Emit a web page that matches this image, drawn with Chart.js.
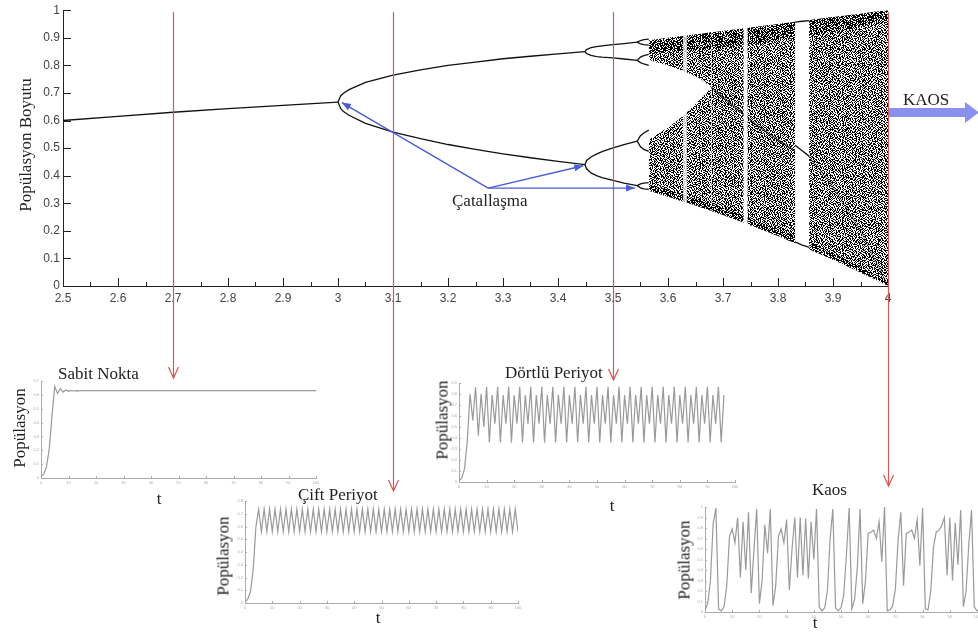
<!DOCTYPE html>
<html>
<head>
<meta charset="utf-8">
<style>
  body { margin: 0; background: #fff; }
  #wrap { position: relative; width: 978px; height: 637px; overflow: hidden; font-family: "Liberation Serif", serif; color: #222; }
  #wrap canvas { position: absolute; }
  .lbl { position: absolute; font-size: 17px; line-height: 1; white-space: nowrap; }
  .vt { position: absolute; font-size: 17px; line-height: 1; white-space: nowrap; transform: translate(-50%, -50%) rotate(-90deg); }
  .t { position: absolute; font-size: 17px; line-height: 1; transform: translate(-50%, -50%); }
</style>
</head>
<body>
<div id="wrap">
  <canvas id="main" width="978" height="637" style="left:0;top:0"></canvas>
  <canvas id="sabit"></canvas>
  <canvas id="cift"></canvas>
  <canvas id="dortlu"></canvas>
  <canvas id="kaos"></canvas>

  <div class="vt" style="left:25px;top:145px">Popülasyon Boyutu</div>
  <div class="lbl" style="left:452px;top:192px">Çatallaşma</div>
  <div class="lbl" style="left:903px;top:91px">KAOS</div>

  <div class="lbl" style="left:58px;top:365px">Sabit Nokta</div>
  <div class="vt" style="left:19px;top:428px">Popülasyon</div>
  <div class="t" style="left:159px;top:498px">t</div>

  <div class="lbl" style="left:298px;top:486px">Çift Periyot</div>
  <div class="vt" style="left:223px;top:556px">Popülasyon</div>
  <div class="t" style="left:378px;top:617px">t</div>

  <div class="lbl" style="left:505px;top:364px">Dörtlü Periyot</div>
  <div class="vt" style="left:442px;top:420px">Popülasyon</div>
  <div class="t" style="left:612px;top:505px">t</div>

  <div class="lbl" style="left:812px;top:481px">Kaos</div>
  <div class="vt" style="left:684px;top:560px">Popülasyon</div>
  <div class="t" style="left:815px;top:622px">t</div>
</div>
<script src="https://cdn.jsdelivr.net/npm/chart.js"></script>
<script>
// ---- bifurcation diagram: growth rate r on x, population on y ----
const singleR = [2.5, 2.6, 2.7, 2.8, 2.9, 3.0];
const singleY = [0.6, 0.615, 0.63, 0.643, 0.655, 0.667];

const doubleR = [3.0, 3.005, 3.01, 3.02, 3.05, 3.1, 3.15, 3.2, 3.25, 3.3, 3.35, 3.4, 3.449];
const doubleUpper = [0.667, 0.69, 0.699, 0.712, 0.738, 0.765, 0.784, 0.8, 0.812, 0.824, 0.833, 0.842, 0.85];
const doubleLower = [0.667, 0.643, 0.633, 0.619, 0.59, 0.558, 0.534, 0.513, 0.495, 0.479, 0.465, 0.452, 0.44];

const quadR = [3.449, 3.452, 3.46, 3.47, 3.48, 3.5, 3.52, 3.544];
const quadA = [0.85, 0.857, 0.864, 0.868, 0.871, 0.875, 0.879, 0.884];
const quadB = [0.85, 0.843, 0.836, 0.832, 0.83, 0.827, 0.823, 0.818];
const quadC = [0.44, 0.455, 0.468, 0.478, 0.487, 0.501, 0.513, 0.525];
const quadD = [0.44, 0.425, 0.41, 0.4, 0.393, 0.383, 0.373, 0.364];

const octR = [3.544, 3.55, 3.556, 3.565];
const octA1 = [0.884, 0.89, 0.893, 0.895];
const octA2 = [0.884, 0.878, 0.875, 0.873];
const octB1 = [0.818, 0.83, 0.835, 0.84];
const octB2 = [0.818, 0.81, 0.805, 0.8];
const octC1 = [0.525, 0.545, 0.555, 0.565];
const octC2 = [0.525, 0.505, 0.495, 0.488];
const octD1 = [0.364, 0.37, 0.373, 0.375];
const octD2 = [0.364, 0.356, 0.352, 0.35];

// chaotic region outline
const chaosR = [3.565, 3.58, 3.6, 3.62, 3.64, 3.66, 3.679, 3.7, 3.75, 3.8, 3.85, 3.9, 3.95, 3.975, 4.0];
const chaosTop = [0.891, 0.895, 0.9, 0.905, 0.91, 0.915, 0.92, 0.925, 0.9375, 0.95, 0.9625, 0.975, 0.9875, 0.994, 1.0];
const chaosTopInner = [0.84, 0.845, 0.85, 0.85, 0.855, 0.86, 0.86, 0.865, 0.875, 0.89, 0.905, 0.92, 0.94, 0.955, 0.97];
const chaosBottom = [0.345, 0.336, 0.324, 0.311, 0.298, 0.285, 0.272, 0.257, 0.22, 0.181, 0.139, 0.095, 0.049, 0.025, 0.0];
const chaosBottomInner = [0.37, 0.36, 0.35, 0.335, 0.322, 0.31, 0.297, 0.282, 0.247, 0.207, 0.165, 0.12, 0.07, 0.04, 0.01];
// two separate bands before they merge (first 7 points of chaosR)
const upperBandBottom = [0.82, 0.81, 0.8, 0.785, 0.77, 0.75, 0.72];
const lowerBandTop = [0.53, 0.55, 0.575, 0.605, 0.64, 0.68, 0.72];

// dense curve running through the chaos
const ridgeR = [3.679, 3.72, 3.76, 3.8, 3.831];
const ridgeY = [0.72, 0.65, 0.585, 0.53, 0.49];
const tailR = [3.857, 3.9, 3.95, 4.0];
const tailY = [0.47, 0.36, 0.2, 0.0];

// periodic windows
const win6R = [3.627, 3.635];
const win5R = [3.737, 3.745];
const win3R = [3.831, 3.844, 3.857];
const win3Top = [0.957, 0.96, 0.962];
const win3Mid = [0.51, 0.49, 0.47];
const win3Bot = [0.16, 0.148, 0.14];

// annotation arrows (r, population)
const redArrowR = [2.7, 3.1, 3.5, 4.0];
const redArrowEnd = [378, 491, 380, 486];
const forkFrom = { r: 3.273, y: 0.355 };
const forkTo = [{ r: 3.007, y: 0.665 }, { r: 3.446, y: 0.436 }, { r: 3.54, y: 0.355 }];

// ---- time series, t = 0..100 ----
const sabitValues = [0.01, 0.03, 0.08, 0.21, 0.45, 0.66, 0.61, 0.645, 0.62, 0.635, 0.626, 0.632, 0.628, 0.631, 0.629, 0.63,
  0.63, 0.63, 0.63, 0.63, 0.63, 0.63, 0.63, 0.63, 0.63, 0.63, 0.63, 0.63, 0.63, 0.63, 0.63, 0.63, 0.63, 0.63, 0.63,
  0.63, 0.63, 0.63, 0.63, 0.63, 0.63, 0.63, 0.63, 0.63, 0.63, 0.63, 0.63, 0.63, 0.63, 0.63, 0.63, 0.63, 0.63, 0.63,
  0.63, 0.63, 0.63, 0.63, 0.63, 0.63, 0.63, 0.63, 0.63, 0.63, 0.63, 0.63, 0.63, 0.63, 0.63, 0.63, 0.63, 0.63, 0.63,
  0.63, 0.63, 0.63, 0.63, 0.63, 0.63, 0.63, 0.63, 0.63, 0.63, 0.63, 0.63, 0.63, 0.63, 0.63, 0.63, 0.63, 0.63, 0.63,
  0.63, 0.63, 0.63, 0.63, 0.63, 0.63, 0.63, 0.63, 0.63];
const ciftValues = [0.01, 0.03, 0.09, 0.26, 0.6, 0.735,
  0.56, 0.735, 0.56, 0.735, 0.56, 0.735, 0.56, 0.735, 0.56, 0.735, 0.56, 0.735, 0.56, 0.735, 0.56, 0.735, 0.56, 0.735,
  0.56, 0.735, 0.56, 0.735, 0.56, 0.735, 0.56, 0.735, 0.56, 0.735, 0.56, 0.735, 0.56, 0.735, 0.56, 0.735, 0.56, 0.735,
  0.56, 0.735, 0.56, 0.735, 0.56, 0.735, 0.56, 0.735, 0.56, 0.735, 0.56, 0.735, 0.56, 0.735, 0.56, 0.735, 0.56, 0.735,
  0.56, 0.735, 0.56, 0.735, 0.56, 0.735, 0.56, 0.735, 0.56, 0.735, 0.56, 0.735, 0.56, 0.735, 0.56, 0.735, 0.56, 0.735,
  0.56, 0.735, 0.56, 0.735, 0.56, 0.735, 0.56, 0.735, 0.56, 0.735, 0.56, 0.735, 0.56, 0.735, 0.56, 0.735, 0.56, 0.735,
  0.56, 0.735, 0.56, 0.735, 0.56];
const dortluValues = [0.01, 0.035, 0.12, 0.37, 0.8, 0.56, 0.86, 0.42, 0.8, 0.5, 0.865, 0.36,
  0.79, 0.53, 0.865, 0.36, 0.79, 0.53, 0.865, 0.36, 0.79, 0.53, 0.865, 0.36, 0.79, 0.53, 0.865, 0.36,
  0.79, 0.53, 0.865, 0.36, 0.79, 0.53, 0.865, 0.36, 0.79, 0.53, 0.865, 0.36, 0.79, 0.53, 0.865, 0.36,
  0.79, 0.53, 0.865, 0.36, 0.79, 0.53, 0.865, 0.36, 0.79, 0.53, 0.865, 0.36, 0.79, 0.53, 0.865, 0.36,
  0.79, 0.53, 0.865, 0.36, 0.79, 0.53, 0.865, 0.36, 0.79, 0.53, 0.865, 0.36, 0.79, 0.53, 0.865, 0.36,
  0.79, 0.53, 0.865, 0.36, 0.79, 0.53, 0.865, 0.36, 0.79, 0.53, 0.865, 0.36, 0.79, 0.53, 0.865, 0.36,
  0.79, 0.53, 0.865, 0.36, 0.79];
const kaosValues = [0.02, 0.08, 0.3, 0.84, 0.99, 0.03, 0.01, 0.05, 0.25, 0.72,
  0.79, 0.66, 0.9, 0.33, 0.86, 0.4, 0.95, 0.18, 0.59, 0.98,
  0.08, 0.3, 0.83, 0.56, 0.98, 0.06, 0.25, 0.72, 0.79, 0.66,
  0.88, 0.21, 0.6, 0.9, 0.33, 0.9, 0.35, 0.89, 0.32, 0.86,
  0.5, 0.98, 0.05, 0.01, 0.04, 0.2, 0.7, 0.98, 0.04, 0.01,
  0.04, 0.16, 0.55, 0.99, 0.03, 0.12, 0.42, 0.98, 0.08, 0.3,
  0.75, 0.76, 0.78, 0.7, 0.86, 0.48, 1.0, 0.01, 0.02, 0.06,
  0.22, 0.69, 0.95, 0.25, 0.75, 0.76, 0.78, 0.7, 0.88, 0.44,
  0.99, 0.03, 0.02, 0.2, 0.62, 0.76, 0.78, 0.82, 0.9, 0.35,
  0.9, 0.3, 0.85, 0.45, 0.97, 0.05, 0.2, 0.65, 0.97, 0.05, 0.01];

// ---- speckle fill for the chaotic region ----
const tileA = [
  "#..#.##..#.#..#.", ".#...#.##...#.##", "#.##...#..##..#.", "..#.#.#..#..##..",
  ".#...##.#..#..##", "#..#.....##.#.#.", ".##.#.#.#...#..#", "#...#..#..#.#.#.",
  "..#..#.#.#..#..#", ".#.##...#.##..#.", "#...#.##...#.#.#", ".##..#..#.#..#..",
  "#..#..#.#..#...#", ".#..#...#.#.##..", "..#.##.#...#..#.", "#.#...#..##..#.#"];
const tileB = [
  "#...#..#.#...", "..#...#....#.", ".#..#...#..#.", "#...#.#...#..", "..#....#.#..#",
  ".#.#.#....#..", "#....#..#...#", "..#.#...#.#..", ".#...#.#...#.", "#..#....#..#.",
  "..#..#.#...#.", ".#.#...#.#...", "#....#...#.#."];
const tileD = [
  "#.....#......", "...#......#..", ".....#.#.....", ".#........#..", "....#.....#..",
  "..#....#.....", "........#..#.", "#....#.......", "...#.......#.", ".#.....#.....",
  "......#...#..", "..#.#........", "#.........#.."];

// tiles are stamped together on one square canvas whose side fits every tile
function makePattern(tiles, size) {
  const c = document.createElement('canvas');
  c.width = c.height = size;
  const g = c.getContext('2d');
  g.fillStyle = '#000';
  tiles.forEach(rows => {
    for (let y = 0; y < size; y++) {
      const row = rows[y % rows.length];
      for (let x = 0; x < size; x++) if (row[x % row.length] === '#') g.fillRect(x, y, 1, 1);
    }
  });
  return g.createPattern(c, 'repeat');
}
const speckle = makePattern([tileA, tileD], 208);
const speckleEdge = makePattern([tileB], 13);

const pts = (xs, ys) => xs.map((x, i) => ({ x, y: ys[i] }));

const datasets = [];
function addLine(xs, ys, color, width, order) {
  datasets.push({ data: pts(xs, ys), borderColor: color, borderWidth: width, pointRadius: 0, fill: false, order });
}
function addBand(xs, top, bottom, color, order) {
  datasets.push({ data: pts(xs, bottom), borderColor: 'transparent', borderWidth: 0, pointRadius: 0, fill: false, order });
  datasets.push({ data: pts(xs, top), borderColor: 'transparent', borderWidth: 0, pointRadius: 0,
    fill: datasets.length - 1, backgroundColor: color, order });
}

// chaotic bands (drawn underneath)
addBand(chaosR.slice(0, 7), chaosTop.slice(0, 7), upperBandBottom, speckle, 6);
addBand(chaosR.slice(0, 7), lowerBandTop, chaosBottom.slice(0, 7), speckle, 6);
addBand(chaosR.slice(6), chaosTop.slice(6), chaosBottom.slice(6), speckle, 6);
addBand(chaosR, chaosTop, chaosTopInner, speckleEdge, 5);
addBand(chaosR, chaosBottomInner, chaosBottom, speckleEdge, 5);
addLine(ridgeR, ridgeY, 'rgba(0,0,0,0.6)', 1.6, 4);
addLine(tailR, tailY, 'rgba(0,0,0,0.3)', 1.6, 4);
// windows
addBand(win6R, [0.925, 0.925], [0.28, 0.28], 'rgba(255,255,255,0.75)', 3);
addBand(win5R, [0.945, 0.945], [0.2, 0.2], 'rgba(255,255,255,0.95)', 3);
addBand([3.831, 3.857], [0.975, 0.975], [0.12, 0.12], '#fff', 3);
// period-doubling branches
[[singleR, singleY], [doubleR, doubleUpper], [doubleR, doubleLower],
 [quadR, quadA], [quadR, quadB], [quadR, quadC], [quadR, quadD],
 [octR, octA1], [octR, octA2], [octR, octB1], [octR, octB2],
 [octR, octC1], [octR, octC2], [octR, octD1], [octR, octD2],
 [win3R, win3Top], [win3R, win3Mid], [win3R, win3Bot]
].forEach(([xs, ys]) => addLine(xs, ys, '#111', 1.3, 1));

// tick marks pointing into the plot
const inTicks = {
  id: 'inTicks',
  afterDatasetsDraw(chart, args, opts) {
    const { ctx, chartArea: a, scales: { x, y } } = chart;
    ctx.save();
    ctx.strokeStyle = opts.color;
    ctx.lineWidth = 1;
    ctx.beginPath();
    x.ticks.forEach((t, i) => {
      const px = Math.round(x.getPixelForValue(t.value)) + 0.5;
      ctx.moveTo(px, a.bottom);
      ctx.lineTo(px, a.bottom - opts.len);
      if (opts.minor && i < x.ticks.length - 1) {
        const mx = Math.round(x.getPixelForValue((t.value + x.ticks[i + 1].value) / 2)) + 0.5;
        ctx.moveTo(mx, a.bottom);
        ctx.lineTo(mx, a.bottom - opts.len / 2);
      }
    });
    y.ticks.forEach(t => {
      const py = Math.round(y.getPixelForValue(t.value)) + 0.5;
      ctx.moveTo(a.left, py);
      ctx.lineTo(a.left + opts.len, py);
    });
    ctx.stroke();
    ctx.restore();
  }
};

function arrowHead(ctx, x0, y0, x1, y1, len, half) {
  const ang = Math.atan2(y1 - y0, x1 - x0);
  ctx.beginPath();
  ctx.moveTo(x1, y1);
  ctx.lineTo(x1 - len * Math.cos(ang) + half * Math.sin(ang), y1 - len * Math.sin(ang) - half * Math.cos(ang));
  ctx.lineTo(x1 - len * Math.cos(ang) - half * Math.sin(ang), y1 - len * Math.sin(ang) + half * Math.cos(ang));
  ctx.closePath();
  ctx.fill();
}

// red guide lines, blue bifurcation arrows and the KAOS arrow
const annotations = {
  id: 'annotations',
  afterDraw(chart) {
    const { ctx, chartArea: a, scales: { x, y } } = chart;
    ctx.save();
    ctx.strokeStyle = '#d85656';
    ctx.lineWidth = 1.2;
    redArrowR.forEach((r, i) => {
      const px = Math.round(x.getPixelForValue(r)) + 0.5;
      const end = redArrowEnd[i];
      ctx.beginPath();
      ctx.moveTo(px, a.top + 2);
      ctx.lineTo(px, end);
      ctx.moveTo(px - 5, end - 11);
      ctx.lineTo(px, end);
      ctx.lineTo(px + 5, end - 11);
      ctx.stroke();
    });

    ctx.strokeStyle = '#4b5bd6';
    ctx.fillStyle = '#4b5bd6';
    ctx.lineWidth = 1.4;
    const fx = x.getPixelForValue(forkFrom.r), fy = y.getPixelForValue(forkFrom.y);
    forkTo.forEach(p => {
      const tx = x.getPixelForValue(p.r), ty = y.getPixelForValue(p.y);
      ctx.beginPath();
      ctx.moveTo(fx, fy);
      ctx.lineTo(tx, ty);
      ctx.stroke();
      arrowHead(ctx, fx, fy, tx, ty, 9, 3.5);
    });

    const kx = x.getPixelForValue(4.0);
    ctx.fillStyle = '#8a90ee';
    ctx.fillRect(kx + 1, 108, 966 - kx, 9);
    ctx.beginPath();
    ctx.moveTo(965, 102);
    ctx.lineTo(979, 112.5);
    ctx.lineTo(965, 123);
    ctx.closePath();
    ctx.fill();
    ctx.restore();
  }
};

const shortNum = v => String(Number(v.toFixed(2)));

new Chart(document.getElementById('main'), {
  type: 'line',
  data: { datasets },
  options: {
    responsive: false,
    animation: false,
    events: [],
    layout: { padding: { left: 0, top: 10, right: 90, bottom: 317 } },
    plugins: {
      legend: { display: false },
      tooltip: { enabled: false },
      inTicks: { color: '#222', len: 8, minor: true }
    },
    elements: { point: { radius: 0 }, line: { tension: 0 } },
    scales: {
      x: {
        type: 'linear', min: 2.5, max: 4,
        ticks: { stepSize: 0.1, autoSkip: false, maxRotation: 0, padding: 5, color: '#444',
          font: { family: 'Liberation Sans', size: 12 }, callback: shortNum },
        grid: { display: false, drawTicks: false },
        border: { color: '#222' },
        afterFit: s => { s.height = 34; }
      },
      y: {
        min: 0, max: 1,
        ticks: { stepSize: 0.1, padding: 3, color: '#444', font: { family: 'Liberation Sans', size: 12 },
          callback: shortNum },
        grid: { display: false, drawTicks: false },
        border: { color: '#222' },
        afterFit: s => { s.width = 63; }
      }
    }
  },
  plugins: [inTicks, annotations]
});

// small time-series panels
function smallChart(id, plot, values, yMax) {
  const cv = document.getElementById(id);
  cv.width = plot.right - plot.left + 48;
  cv.height = plot.bottom - plot.top + 24;
  cv.style.left = (plot.left - 40) + 'px';
  cv.style.top = (plot.top - 10) + 'px';
  const tickFont = { family: 'Liberation Sans', size: 4 };
  new Chart(cv, {
    type: 'line',
    data: { datasets: [{ data: values.map((v, t) => ({ x: t, y: v })), borderColor: '#9a9a9a',
      borderWidth: 1.2, pointRadius: 0, fill: false }] },
    options: {
      responsive: false,
      animation: false,
      events: [],
      layout: { padding: { left: 0, top: 10, right: 8, bottom: 0 } },
      plugins: { legend: { display: false }, tooltip: { enabled: false },
        inTicks: { color: '#aaa', len: 2, minor: false } },
      scales: {
        x: { type: 'linear', min: 0, max: 100,
          ticks: { stepSize: 10, autoSkip: false, maxRotation: 0, padding: 2, color: '#aaa', font: tickFont },
          grid: { display: false, drawTicks: false }, border: { color: '#aaa' },
          afterFit: s => { s.height = 14; } },
        y: { min: 0, max: yMax,
          ticks: { stepSize: 0.1, padding: 2, color: '#aaa', font: tickFont, callback: shortNum },
          grid: { display: false, drawTicks: false }, border: { color: '#aaa' },
          afterFit: s => { s.width = 40; } }
      }
    },
    plugins: [inTicks]
  });
}

smallChart('sabit', { left: 41, right: 316, top: 381, bottom: 478 }, sabitValues, 0.7);
smallChart('cift', { left: 245, right: 518, top: 501, bottom: 603 }, ciftValues, 0.8);
smallChart('dortlu', { left: 459, right: 735, top: 383, bottom: 482 }, dortluValues, 0.9);
smallChart('kaos', { left: 705, right: 977, top: 507, bottom: 612 }, kaosValues, 1.0);
</script>
</body>
</html>
